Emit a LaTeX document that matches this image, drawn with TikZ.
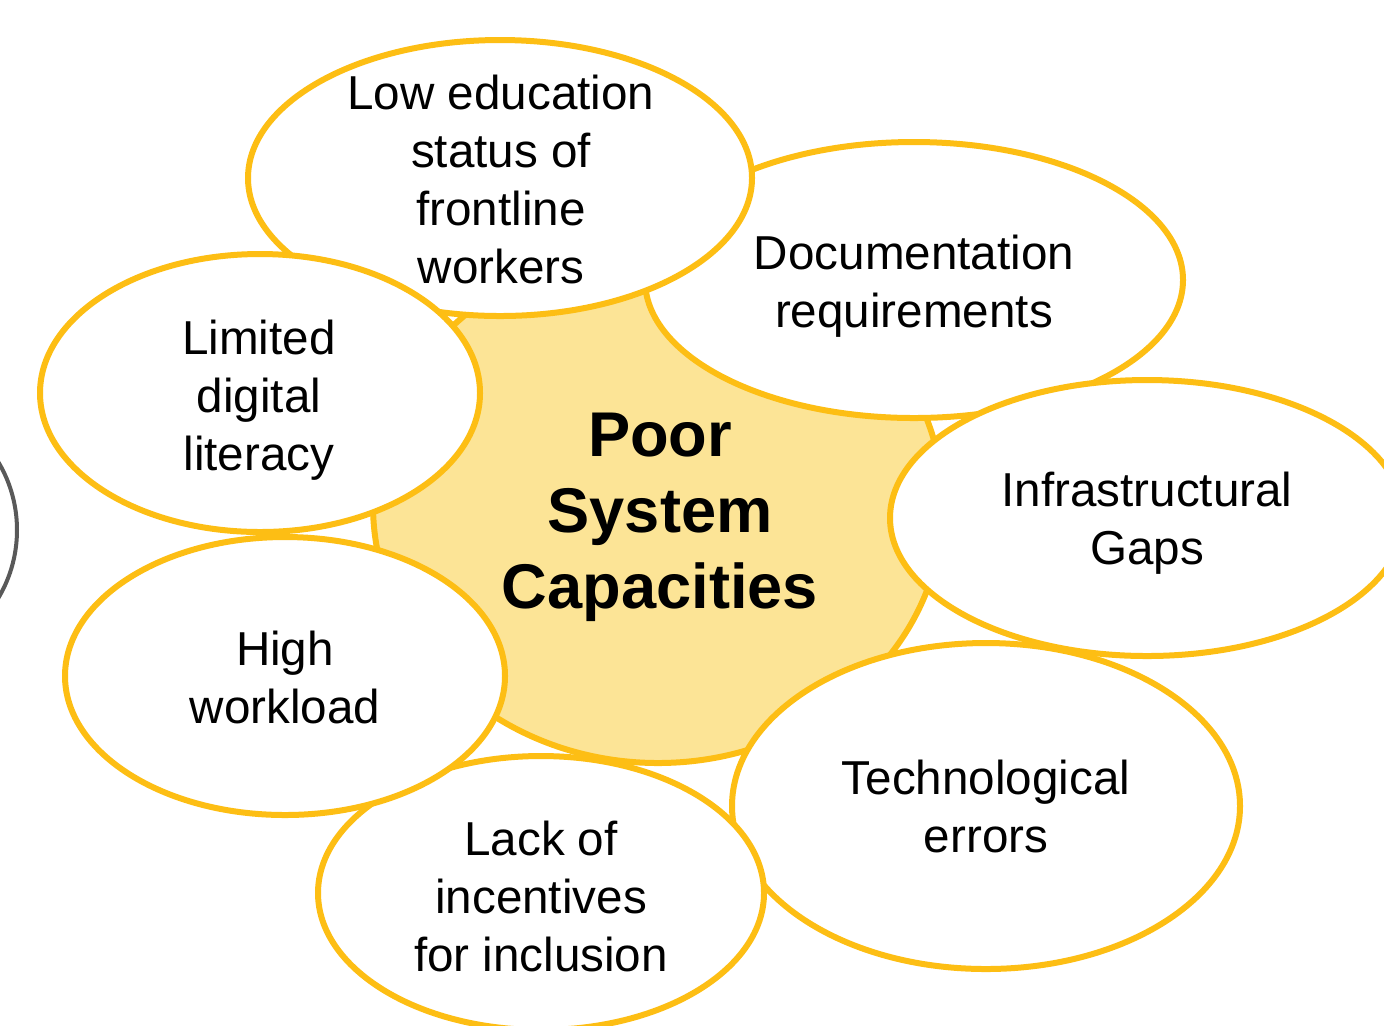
\documentclass[tikz,border=0pt]{standalone}
\usepackage{fontspec}
\setmainfont{Liberation Sans}
\usetikzlibrary{shapes.geometric}
\definecolor{gold}{HTML}{FDBE14}
\definecolor{lightgold}{HTML}{FCE496}
\definecolor{ringgrey}{HTML}{595959}
\tikzset{
  bubble/.style={ellipse, draw=gold, line width=3pt, fill=white, inner sep=0pt},
  core/.style={ellipse, draw=gold, line width=3pt, fill=lightgold, inner sep=0pt},
  lbl/.style={align=center, font=\fontsize{23.8}{29}\selectfont, inner sep=0pt},
  corelbl/.style={align=center, font=\fontsize{31.6}{38}\selectfont\bfseries, inner sep=0pt},
}
\begin{document}
\begin{tikzpicture}[x=0.5pt,y=-0.5pt]
\useasboundingbox (0,0) rectangle (1384,1025);
\clip (0,0) rectangle (1384,1025);
% partial grey ring at left edge
\node[circle, draw=ringgrey, line width=2pt, minimum size=133pt, inner sep=0pt] (ring) at (-116,530) {};
% central shape
\node[core, minimum width=285pt, minimum height=258pt] (center) at (658,505) {};
% satellites
\node[bubble, minimum width=269pt, minimum height=138pt] (doc) at (914,280) {};
\node[bubble, minimum width=257pt, minimum height=138pt] (infra) at (1147,518) {};
\node[bubble, minimum width=254pt, minimum height=163pt] (tech) at (986,806) {};
\node[bubble, minimum width=223pt, minimum height=137pt] (lack) at (541,893) {};
\node[bubble, minimum width=220pt, minimum height=139pt] (high) at (285,676) {};
\node[bubble, minimum width=252pt, minimum height=138pt] (low) at (500,178) {};
\node[bubble, minimum width=220pt, minimum height=139pt] (lim) at (260,393) {};
% labels
\node[corelbl] (centertxt) at (660,517) {Poor\\System\\Capacities};
\node[lbl] (doctxt) at (914,286) {Documentation\\requirements};
\node[lbl] (infratxt) at (1147,523) {Infrastructural\\Gaps};
\node[lbl] (techtxt) at (986,806) {Technological\\errors};
\node[lbl] (lacktxt) at (541,896) {Lack of\\incentives\\for inclusion};
\node[lbl] (hightxt) at (285,677) {High\\workload};
\node[lbl] (lowtxt) at (501,179) {Low education\\status of\\frontline\\workers};
\node[lbl] (limtxt) at (259,400) {Limited\\digital\\literacy};
\end{tikzpicture}
\end{document}
